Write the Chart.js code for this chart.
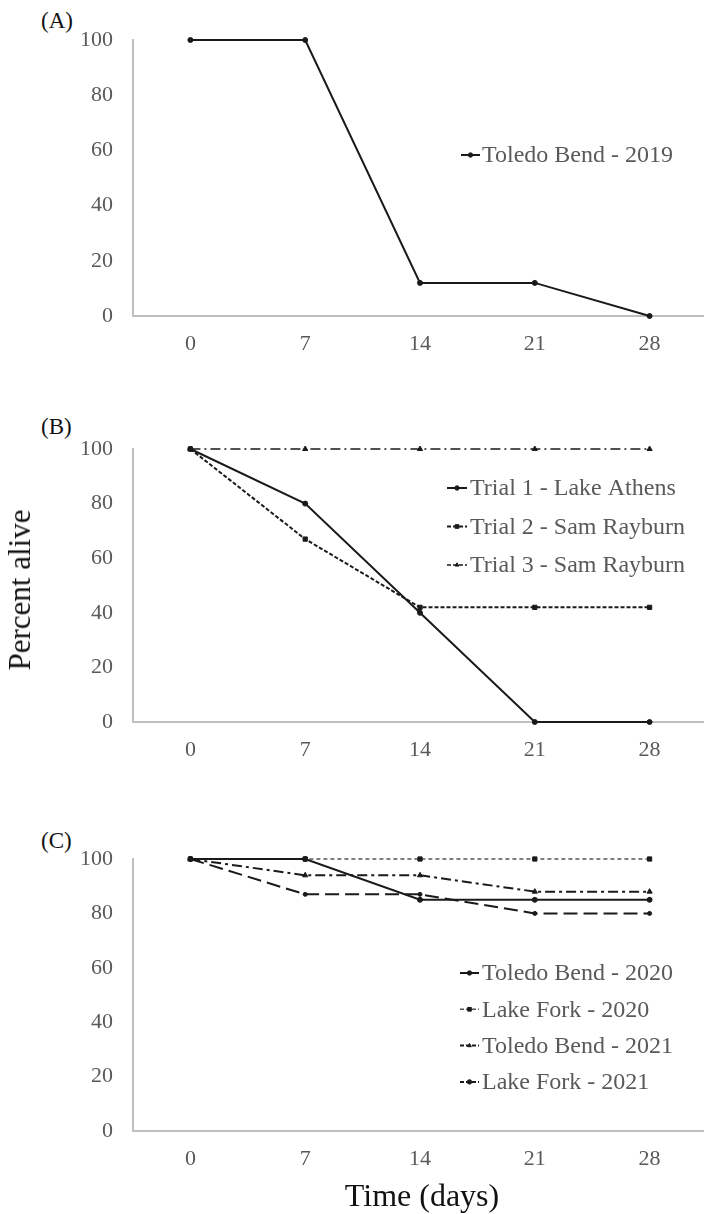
<!DOCTYPE html>
<html>
<head>
<meta charset="utf-8">
<script src="https://cdn.jsdelivr.net/npm/chart.js@4.4.0/dist/chart.umd.min.js"></script>
<style>
  html, body { margin: 0; padding: 0; background: #fff; overflow: hidden; }
  #page { position: relative; width: 704px; height: 1214px; overflow: hidden; font-family: "Liberation Serif", "Times New Roman", serif; }
  #page canvas { position: absolute; left: 0; }
  .panel-tag { position: absolute; left: 41px; font-size: 23px; color: #111; line-height: 1; }
  #y-title { position: absolute; left: 20px; top: 590px; font-size: 31px; color: #111; white-space: nowrap;
             transform: translate(-50%, -50%) rotate(-90deg); }
  #x-title { position: absolute; left: 422px; top: 1195px; font-size: 32px; color: #111; white-space: nowrap;
             transform: translate(-50%, -50%); }
</style>
</head>
<body>
<div id="page">
  <div class="panel-tag" style="top:9px">(A)</div>
  <div class="panel-tag" style="top:415px">(B)</div>
  <div class="panel-tag" style="top:829px">(C)</div>
  <canvas id="chart-a" width="712" height="360" style="top:0px"></canvas>
  <canvas id="chart-b" width="712" height="360" style="top:410px"></canvas>
  <canvas id="chart-c" width="712" height="360" style="top:820px"></canvas>
  <div id="y-title">Percent alive</div>
  <div id="x-title">Time (days)</div>
</div>

<script>
// Sampling days (x categories)
const days = ['0', '7', '14', '21', '28'];
const yTicks = [0, 20, 40, 60, 80, 100];

// (A) Toledo Bend 2019
const toledoBend2019 = [100, 100, 12, 12, 0];

// (B) trials
const trial1LakeAthens = [100, 80, 40, 0, 0];
const trial2SamRayburn = [100, 67, 42, 42, 42];
const trial3SamRayburn = [100, 100, 100, 100, 100];

// (C) 2020 / 2021
const toledoBend2020 = [100, 100, 85, 85, 85];
const lakeFork2020 = [100, 100, 100, 100, 100];
const toledoBend2021 = [100, 94, 94, 88, 88];
const lakeFork2021 = [100, 87, 87, 80, 80];

const FONT = '"Liberation Serif", "Times New Roman", serif';
const GREY_TEXT = '#595959';
const AXIS_GREY = '#bfbfbf';
const INK = '#1a1a1a';

// Draws a legend inside the plot, one row per dataset
const insideLegend = {
    id: 'insideLegend',
    afterDraw(chart, args, opts) {
        const ctx = chart.ctx;
        ctx.save();
        ctx.font = `24px ${FONT}`;
        ctx.textBaseline = 'middle';
        chart.data.datasets.forEach((ds, i) => {
            const y = opts.y + i * opts.rowH;
            ctx.strokeStyle = ds.borderColor;
            ctx.lineWidth = ds.borderWidth;
            ctx.setLineDash(ds.borderDash.length ? [4, 2] : []);
            ctx.beginPath();
            ctx.moveTo(opts.x, y);
            ctx.lineTo(opts.x + opts.lineW, y);
            ctx.stroke();
            ctx.setLineDash([]);
            ctx.fillStyle = INK;
            ctx.strokeStyle = INK;
            ctx.lineWidth = 1;
            Chart.helpers.drawPoint(ctx, {
                pointStyle: ds.pointStyle, radius: ds.pointStyle === 'rect' ? 2.6 : 2.2, rotation: 0, borderWidth: 1
            }, opts.x + opts.lineW / 2, y);
            ctx.fillStyle = GREY_TEXT;
            ctx.fillText(ds.label, opts.textX, y + 1);
        });
        ctx.restore();
    }
};

function makeSeries(label, data, dash, pointStyle, width = 2, color = INK, radius = 2.5) {
    return {
        label: label,
        data: data,
        borderColor: color,
        borderWidth: width,
        borderDash: dash,
        pointStyle: pointStyle,
        pointRadius: radius,
        pointBackgroundColor: INK,
        pointBorderColor: INK,
        pointBorderWidth: 1,
        fill: false,
        tension: 0,
        clip: false
    };
}

/**
 * Builds one panel. top/bottom are the plot edges inside the canvas.
 */
function buildPanel(canvasId, datasets, plotTop, plotBottom, canvasH, legend) {
    new Chart(document.getElementById(canvasId), {
        type: 'line',
        data: { labels: days, datasets: datasets },
        options: {
            responsive: false,
            animation: false,
            devicePixelRatio: 1,
            layout: { padding: { top: plotTop, left: 0, right: 0, bottom: 0 } },
            plugins: {
                legend: { display: false },
                tooltip: { enabled: false },
                insideLegend: legend
            },
            scales: {
                x: {
                    type: 'category',
                    offset: true,
                    grid: { drawOnChartArea: false, drawTicks: false },
                    border: { display: true, color: AXIS_GREY, width: 2 },
                    ticks: { color: GREY_TEXT, font: { family: FONT, size: 22 }, padding: 15, maxRotation: 0 },
                    afterFit: scale => { scale.height = canvasH - plotBottom; }
                },
                y: {
                    min: 0,
                    max: 100,
                    afterBuildTicks: scale => { scale.ticks = yTicks.map(v => ({ value: v })); },
                    grid: { drawOnChartArea: false, drawTicks: false },
                    border: { display: true, color: AXIS_GREY, width: 2 },
                    ticks: { color: GREY_TEXT, font: { family: FONT, size: 22 }, padding: 20 },
                    afterFit: scale => { scale.width = 133; }
                }
            }
        },
        plugins: [insideLegend]
    });
}

buildPanel('chart-a', [
    makeSeries('Toledo Bend - 2019', toledoBend2019, [], 'circle')
], 40, 316, 360, { x: 461, lineW: 19, textX: 482, y: 155, rowH: 36 });

buildPanel('chart-b', [
    makeSeries('Trial 1 - Lake Athens', trial1LakeAthens, [], 'circle'),
    makeSeries('Trial 2 - Sam Rayburn', trial2SamRayburn, [4, 2], 'rect', 2, INK, 3),
    makeSeries('Trial 3 - Sam Rayburn', trial3SamRayburn, [10, 4, 2, 4], 'triangle', 1.5, INK, 3)
], 39, 312, 360, { x: 447, lineW: 20, textX: 470, y: 78, rowH: 38.5 });

buildPanel('chart-c', [
    makeSeries('Toledo Bend - 2020', toledoBend2020, [], 'circle'),
    makeSeries('Lake Fork - 2020', lakeFork2020, [4, 3], 'rect', 1.5, '#555', 3),
    makeSeries('Toledo Bend - 2021', toledoBend2021, [10, 4, 3, 4], 'triangle', 2, INK, 3),
    makeSeries('Lake Fork - 2021', lakeFork2021, [14, 6], 'circle', 2, INK, 2)
], 39, 311, 360, { x: 460, lineW: 19, textX: 482, y: 153, rowH: 36.3 });
</script>
</body>
</html>
